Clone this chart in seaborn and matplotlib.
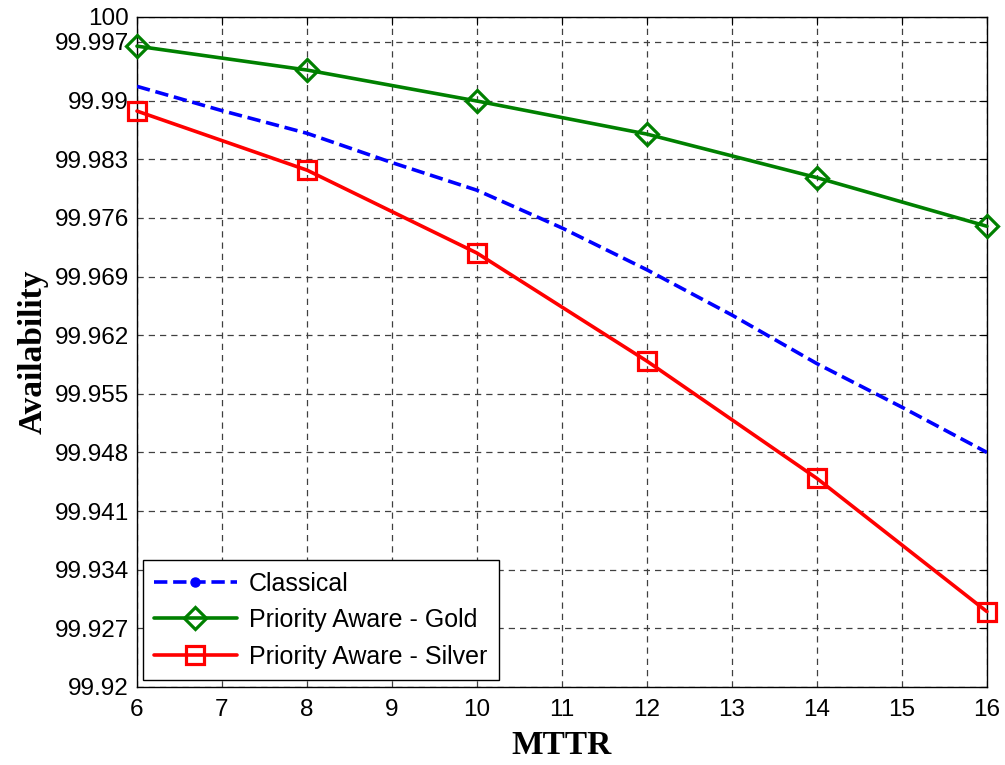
import numpy as np
import pandas as pd
import matplotlib
matplotlib.use("Agg")
import matplotlib.pyplot as plt
from matplotlib.lines import Line2D
import seaborn as sns

# MTTR values for the marked series
mttr = [6, 8, 10, 12, 14, 16]
gold = [99.9965, 99.99365, 99.98995, 99.9860, 99.9808, 99.9750]
silver = [99.98875, 99.9817, 99.9718, 99.9589, 99.9449, 99.9290]

# Classical curve (no markers drawn)
mttr_classical = [6, 7, 8, 9, 10, 11, 12, 13, 14, 15, 16]
classical = [99.9917, 99.9888, 99.9861, 99.9826, 99.9793, 99.9748,
             99.9698, 99.9644, 99.9586, 99.9534, 99.9480]

ytick_vals = [99.92, 99.927, 99.934, 99.941, 99.948, 99.955, 99.962,
              99.969, 99.976, 99.983, 99.99, 99.997, 100]
ytick_labels = ["99.92", "99.927", "99.934", "99.941", "99.948", "99.955",
                "99.962", "99.969", "99.976", "99.983", "99.99", "99.997", "100"]
xtick_vals = list(range(6, 17))

sns.set_style("white")
plt.rcParams["font.family"] = ["Liberation Sans", "DejaVu Sans"]
plt.rcParams["text.color"] = "black"
plt.rcParams["xtick.color"] = "black"
plt.rcParams["ytick.color"] = "black"
plt.rcParams["axes.labelcolor"] = "black"

fig = plt.figure(figsize=(10.05, 7.65), dpi=100)
ax = fig.add_axes([0.1363, 0.102, 0.8457, 0.876])

blue = (0, 0, 1)
green = (0, 0.5, 0)
red = (1, 0, 0)

sns.lineplot(x=mttr_classical, y=classical, ax=ax, color=blue,
             linestyle="--", linewidth=2.6, zorder=3)
sns.lineplot(x=mttr, y=gold, ax=ax, color=green, linewidth=2.6,
             marker="D", markersize=11, markerfacecolor="none",
             markeredgecolor=green, markeredgewidth=2.3, zorder=4, clip_on=False)
sns.lineplot(x=mttr, y=silver, ax=ax, color=red, linewidth=2.6,
             marker="s", markersize=12.5, markerfacecolor="none",
             markeredgecolor=red, markeredgewidth=2.3, zorder=4, clip_on=False)

ax.set_xlim(6, 16)
ax.set_ylim(99.92, 100)
ax.set_xticks(xtick_vals)
ax.set_yticks(ytick_vals)
ax.set_yticklabels(ytick_labels)
ax.tick_params(axis="both", direction="in", length=6, width=0.8,
               labelsize=17.5, top=True, right=True)
ax.tick_params(axis="x", pad=9)
ax.tick_params(axis="y", pad=6)

ax.grid(True, color="0.25", linestyle=(0, (5, 4)), linewidth=0.9)
for s in ax.spines.values():
    s.set_color("black")
    s.set_linewidth(1.0)

ax.set_xlabel("MTTR", fontsize=24, fontweight="bold",
              family=["Liberation Serif", "DejaVu Serif"], labelpad=6)
ax.set_ylabel("Availability", fontsize=24, fontweight="bold",
              family=["Liberation Serif", "DejaVu Serif"], labelpad=4)

handles = [
    Line2D([], [], color=blue, linestyle="--", linewidth=2.6, marker=".",
           markersize=13),
    Line2D([], [], color=green, linewidth=2.6, marker="D", markersize=11,
           markerfacecolor="none", markeredgewidth=2.3),
    Line2D([], [], color=red, linewidth=2.6, marker="s", markersize=12.5,
           markerfacecolor="none", markeredgewidth=2.3),
]
labels = ["Classical", "Priority Aware - Gold", "Priority Aware - Silver"]
leg = ax.legend(handles, labels, loc="lower left", fontsize=18,
                frameon=True, fancybox=False, framealpha=1,
                edgecolor="black", handlelength=3.3, handletextpad=0.5,
                borderpad=0.45, labelspacing=0.5, borderaxespad=0,
                bbox_to_anchor=(0.007, 0.0105))
leg.get_frame().set_linewidth(1.0)

fig.savefig("out.png", dpi=100)
